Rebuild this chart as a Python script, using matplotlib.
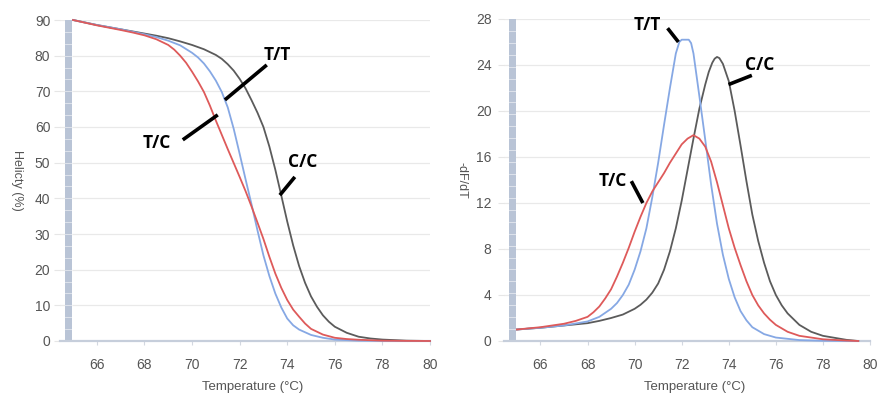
import numpy as np
import matplotlib
matplotlib.use("Agg")
import matplotlib.pyplot as plt

plt.rcParams["font.family"] = ["Liberation Sans", "DejaVu Sans"]

GRAY = "#5b5b5b"
RED = "#de5a5a"
BLUE = "#86a8e4"
TICK_COLOR = "#555555"
BAR_COLOR = "#b9c4d6"

# --- melting curves (helicity, %) ---------------------------------------
helix_cc_temp = [65, 66, 67, 68, 68.5, 69, 69.5, 70, 70.5, 71, 71.25, 71.5,
                 71.75, 72, 72.25, 72.5, 72.75, 73, 73.25, 73.5, 73.75, 74,
                 74.25, 74.5, 74.75, 75, 75.25, 75.5, 75.75, 76, 76.5, 77,
                 77.5, 78, 79, 80]
helix_cc = [90, 88.6, 87.4, 86.2, 85.6, 84.9, 84.0, 83.0, 81.8, 80.2, 79.1,
            77.6, 75.8, 73.5, 70.8, 67.5, 64.0, 60.0, 54.5, 48.0, 40.8, 33.5,
            26.8, 21.0, 16.3, 12.5, 9.6, 7.2, 5.4, 4.0, 2.3, 1.2, 0.7, 0.4,
            0.1, 0.0]

helix_tc_temp = [65, 66, 67, 67.5, 68, 68.5, 69, 69.25, 69.5, 69.75, 70,
                 70.25, 70.5, 70.75, 71, 71.25, 71.5, 71.75, 72, 72.25, 72.5,
                 72.75, 73, 73.25, 73.5, 73.75, 74, 74.25, 74.5, 74.75, 75,
                 75.5, 76, 76.5, 77, 78, 79, 80]
helix_tc = [90, 88.5, 87.2, 86.5, 85.7, 84.6, 83.0, 81.7, 80.0, 78.0, 75.5,
            72.8, 69.8, 66.0, 61.8, 57.8, 53.8, 49.9, 46.0, 42.0, 37.7, 33.2,
            28.6, 23.6, 18.9, 14.9, 11.5, 8.8, 6.8, 4.9, 3.4, 1.8, 0.9, 0.55,
            0.35, 0.1, 0.03, 0.0]

helix_tt_temp = [65, 66, 67, 68, 68.5, 69, 69.5, 70, 70.25, 70.5, 70.75, 71,
                 71.25, 71.5, 71.75, 72, 72.25, 72.5, 72.75, 73, 73.25, 73.5,
                 73.75, 74, 74.25, 74.5, 75, 75.5, 76, 77, 78, 79, 80]
helix_tt = [90, 88.6, 87.4, 86.0, 85.2, 84.2, 82.9, 80.8, 79.5, 77.8, 75.6,
            73.0, 69.8, 65.5, 59.5, 52.5, 45.3, 38.3, 31.0, 24.0, 18.2, 13.3,
            9.4, 6.3, 4.4, 3.2, 1.7, 0.9, 0.4, 0.1, 0.03, 0.0, 0.0]

# --- derivative curves (-dF/dT) -------------------------------------------
deriv_cc_temp = [65, 66, 67, 68, 68.5, 69, 69.5, 70, 70.25, 70.5, 70.75, 71,
                 71.25, 71.5, 71.75, 72, 72.25, 72.5, 72.75, 73, 73.15, 73.3,
                 73.4, 73.5, 73.6, 73.75, 74, 74.25, 74.5, 74.75, 75, 75.25,
                 75.5, 75.75, 76, 76.25, 76.5, 77, 77.5, 78, 79, 79.5]
deriv_cc = [1.0, 1.15, 1.35, 1.55, 1.75, 2.0, 2.3, 2.8, 3.15, 3.6, 4.2, 5.0,
            6.2, 7.8, 9.8, 12.2, 14.9, 17.6, 20.2, 22.3, 23.4, 24.2, 24.55,
            24.7, 24.6, 24.1, 22.6, 20.0, 17.0, 13.9, 11.0, 8.7, 6.8, 5.2,
            4.0, 3.1, 2.4, 1.4, 0.8, 0.45, 0.1, 0.0]

deriv_tc_temp = [65, 66, 67, 67.5, 68, 68.25, 68.5, 68.75, 69, 69.25, 69.5,
                 69.75, 70, 70.25, 70.5, 70.75, 71, 71.25, 71.5, 71.75, 72,
                 72.25, 72.5, 72.75, 73, 73.25, 73.5, 73.75, 74, 74.25, 74.5,
                 74.75, 75, 75.25, 75.5, 75.75, 76, 76.5, 77, 78, 79, 79.5]
deriv_tc = [1.0, 1.2, 1.5, 1.75, 2.1, 2.5, 3.0, 3.7, 4.5, 5.6, 6.8, 8.1, 9.5,
            10.8, 12.0, 13.0, 13.8, 14.6, 15.5, 16.3, 17.1, 17.6, 17.9, 17.6,
            16.9, 15.6, 13.8, 11.8, 9.8, 8.1, 6.6, 5.2, 4.0, 3.1, 2.4, 1.85,
            1.4, 0.8, 0.45, 0.15, 0.04, 0.0]

deriv_tt_temp = [65, 66, 67, 68, 68.5, 69, 69.25, 69.5, 69.75, 70, 70.25,
                 70.5, 70.75, 71, 71.25, 71.5, 71.75, 71.9, 72, 72.3, 72.4,
                 72.5, 72.75, 73, 73.25, 73.5, 73.75, 74, 74.25, 74.5, 74.75,
                 75, 75.5, 76, 77, 78, 79, 79.5]
deriv_tt = [1.0, 1.15, 1.35, 1.7, 2.1, 2.8, 3.3, 4.0, 4.9, 6.2, 7.8, 9.8,
            12.5, 15.5, 18.8, 22.0, 25.0, 26.0, 26.2, 26.2, 25.9, 25.0, 21.3,
            17.5, 13.6, 10.2, 7.5, 5.4, 3.8, 2.6, 1.8, 1.2, 0.6, 0.3, 0.08,
            0.02, 0.0, 0.0]

x_ticks = [66, 68, 70, 72, 74, 76, 78, 80]
helix_ticks = [0, 10, 20, 30, 40, 50, 60, 70, 80, 90]
deriv_ticks = [0, 4, 8, 12, 16, 20, 24, 28]


def style_axes(ax, yticks, ylabel, ytick_pad):
    ax.set_xlim(64.45, 80)
    ax.set_ylim(yticks[0], yticks[-1])
    ax.set_xticks(x_ticks)
    ax.set_yticks(yticks)
    for side in ("top", "right", "left"):
        ax.spines[side].set_visible(False)
    ax.spines["bottom"].set_color("#c6cedb")
    ax.spines["bottom"].set_linewidth(1.6)
    ax.grid(axis="y", color="#e9e9e9", linewidth=0.9)
    ax.set_axisbelow(True)
    ax.tick_params(axis="x", length=3, color="#d3d8e0", pad=9,
                   labelsize=10, labelcolor=TICK_COLOR)
    ax.tick_params(axis="y", length=4, color="#e6e6e6", pad=ytick_pad,
                   labelsize=10, labelcolor=TICK_COLOR)
    ax.set_xlabel("Temperature (°C)", fontsize=9.5, color=TICK_COLOR)
    ax.xaxis.set_label_coords(0.52, -0.125)
    ax.set_ylabel(ylabel, fontsize=9, color=TICK_COLOR, rotation=270,
                  va="center")
    ax.yaxis.set_label_coords(-0.115, 0.5)

    # segmented scroll bar along the left edge
    top = yticks[-1]
    ax.axvspan(64.66, 64.95, color=BAR_COLOR, lw=0, zorder=1)
    for y in np.linspace(0, top, 28)[1:-1]:
        ax.plot([64.66, 64.95], [y, y], color="white", lw=0.6, alpha=0.6,
                zorder=1.5)


def label(ax, text, text_xy, line_from, line_to):
    ax.text(*text_xy, text, fontsize=12.5, fontweight="bold",
            family=["Open Sans", "DejaVu Sans"], ha="center", va="center",
            color="black", zorder=5)
    ax.plot([line_from[0], line_to[0]], [line_from[1], line_to[1]],
            color="black", lw=2.6, solid_capstyle="butt", zorder=5)


fig = plt.figure(figsize=(8.81, 3.99), dpi=100)
ax1 = fig.add_axes([60 / 881, 58 / 399, 370 / 881, 321 / 399])
ax2 = fig.add_axes([504 / 881, 58 / 399, 366 / 881, 322 / 399])

style_axes(ax1, helix_ticks, "Helicty (%)", 3)
style_axes(ax2, deriv_ticks, "-dF/dT", 5)

lw = 1.3
ax1.plot(helix_cc_temp, helix_cc, color=GRAY, lw=lw, clip_on=False, zorder=3)
ax1.plot(helix_tt_temp, helix_tt, color=BLUE, lw=lw, clip_on=False, zorder=3)
ax1.plot(helix_tc_temp, helix_tc, color=RED, lw=lw, clip_on=False, zorder=3)

ax2.plot(deriv_cc_temp, deriv_cc, color=GRAY, lw=lw, clip_on=False, zorder=3)
ax2.plot(deriv_tt_temp, deriv_tt, color=BLUE, lw=lw, clip_on=False, zorder=3)
ax2.plot(deriv_tc_temp, deriv_tc, color=RED, lw=lw, clip_on=False, zorder=3)

label(ax1, "T/T", (73.6, 80.2), (73.14, 77.4), (71.38, 67.6))
label(ax1, "T/C", (68.5, 55.5), (69.61, 56.4), (71.08, 63.4))
label(ax1, "C/C", (74.66, 50.2), (74.32, 46.0), (73.69, 40.9))

label(ax2, "T/T", (70.56, 27.5), (71.40, 27.2), (71.86, 26.0))
label(ax2, "C/C", (75.33, 24.0), (74.98, 23.1), (73.99, 22.3))
label(ax2, "T/C", (69.09, 13.9), (69.86, 13.9), (70.35, 12.0))

fig.savefig("out.png", dpi=100)
